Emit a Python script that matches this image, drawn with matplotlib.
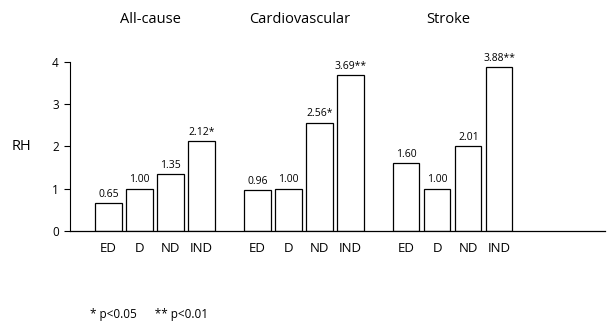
import numpy as np
import matplotlib.pyplot as plt

plt.rcParams['font.family'] = ['Open Sans', 'DejaVu Sans']

# relative hazard per cause of death and group
groups = ['All-cause', 'Cardiovascular', 'Stroke']
cats = ['ED', 'D', 'ND', 'IND']
rh_allcause = [0.65, 1.00, 1.35, 2.12]
rh_cardio = [0.96, 1.00, 2.56, 3.69]
rh_stroke = [1.60, 1.00, 2.01, 3.88]
stars_allcause = ['', '', '', '*']
stars_cardio = ['', '', '*', '**']
stars_stroke = ['', '', '', '**']

values = [rh_allcause, rh_cardio, rh_stroke]
stars = [stars_allcause, stars_cardio, stars_stroke]

fig = plt.figure(figsize=(6.09, 3.28), dpi=100)
ax = fig.add_axes([0.115, 0.296, 0.878, 0.515])

gap = 4.8
width = 0.85
xticks = []
xlabels = []
for g in range(3):
    x = np.arange(4) + g * gap
    ax.bar(x, values[g], width=width, color='white', edgecolor='black', linewidth=0.9)
    for xi, v, s in zip(x, values[g], stars[g]):
        ax.text(xi, v + 0.08, f'{v:.2f}' + s, ha='center', va='bottom', fontsize=7.5)
    xticks += list(x)
    xlabels += cats
    ax.text(x.mean() - 0.15, 1.25, groups[g], transform=ax.get_xaxis_transform(),
            ha='center', va='center', fontsize=10.5)

ax.set_xlim(-1.24, 16.0)
ax.set_ylim(0, 4)
ax.set_yticks([0, 1, 2, 3, 4])
ax.set_xticks(xticks)
ax.set_xticklabels(xlabels, fontsize=9.5)
ax.tick_params(axis='x', length=0, pad=8)
ax.tick_params(axis='y', length=4, width=0.8, labelsize=8.5, pad=4)
for side in ['top', 'right']:
    ax.spines[side].set_visible(False)
ax.spines['left'].set_linewidth(0.8)
ax.spines['bottom'].set_linewidth(0.9)
ax.set_ylabel('RH', rotation=0, fontsize=10.5, labelpad=22, va='center')

fig.text(0.148, 0.03, '* p<0.05      ** p<0.01', fontsize=8.5)

fig.savefig('out.png', dpi=100)
